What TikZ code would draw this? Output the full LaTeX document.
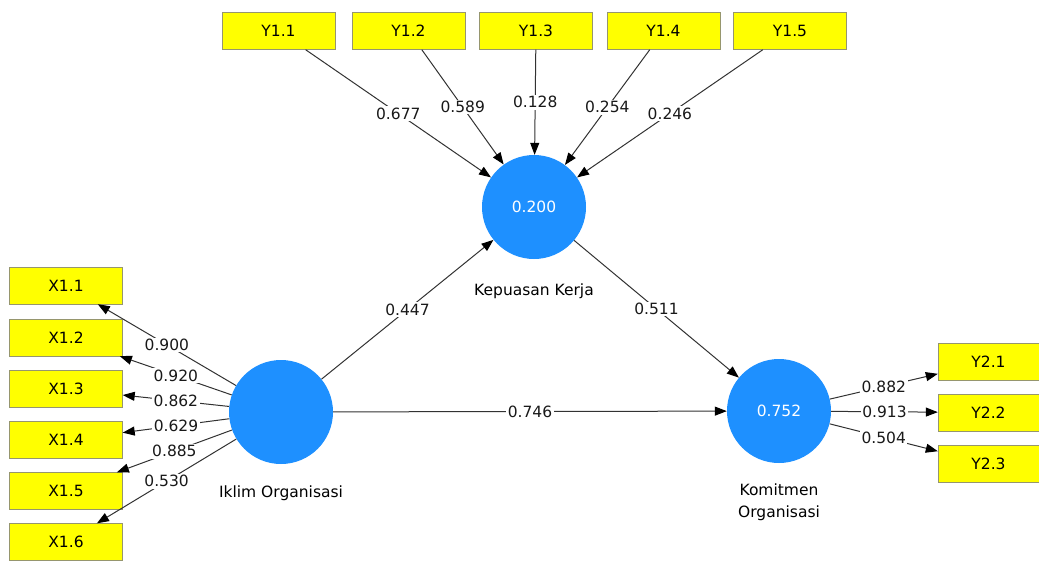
\documentclass[tikz,border=0pt]{standalone}
\usepackage{fontspec}
\setmainfont{DejaVu Sans}
\usetikzlibrary{arrows.meta,positioning}
\definecolor{latentBlue}{RGB}{30,144,255}
\definecolor{boxYellow}{RGB}{255,255,0}
\definecolor{boxBorder}{RGB}{150,150,110}
\definecolor{lineGray}{RGB}{50,50,50}
\begin{document}
\begin{tikzpicture}
		[x=1pt,y=-1pt,font=\fontsize{15.5}{22}\selectfont,
			boxDecorate/.style={shape=rectangle,draw=boxBorder,fill=boxYellow,minimum width=113pt,minimum height=37pt,inner sep=0pt},
			latentDecorate/.style={shape=circle,fill=latentBlue,minimum size=104pt,inner sep=0pt,text=white},
			lineDecorate/.style={draw=lineGray,line width=1pt,-{Triangle[length=12pt,width=9pt,color=black]}},
			weightDecorate/.style={fill=white,inner sep=1.5pt,text=black!90}]
		\useasboundingbox (0,0) rectangle (1039,560);
		% latent variables
		\node (kepuasan) at (534,207) [latentDecorate] {0.200};
		\node (iklim) at (281,412) [latentDecorate] {};
		\node (komitmen) at (779,411) [latentDecorate] {0.752};
		\node [below=21pt of kepuasan] {Kepuasan Kerja};
		\node [below=18pt of iklim] {Iklim Organisasi};
		\node [below=17pt of komitmen,align=center] {Komitmen\\Organisasi};
		% indicators
		\foreach \nodename/\x/\y/\caption in {
				y11/278.5/31/Y1.1, y12/408.5/31/Y1.2, y13/536/31/Y1.3, y14/663.5/31/Y1.4, y15/790/31/Y1.5,
				x11/66/285.5/X1.1, x12/66/337.5/X1.2, x13/66/389/X1.3, x14/66/440/X1.4, x15/66/491/X1.5, x16/66/542/X1.6}
			{
				\node (\nodename) at (\x,\y) [boxDecorate] {\caption};
			}
		\foreach \nodename/\y/\caption in {y21/362/Y2.1, y22/412.5/Y2.2, y23/464/Y2.3}
			{
				\node (\nodename) at (988.5,\y) [boxDecorate,minimum width=101pt] {\caption};
			}
		\foreach \startnode/\endnode/\weight in {
				y11/kepuasan/0.677, y12/kepuasan/0.589, y13/kepuasan/0.128, y14/kepuasan/0.254, y15/kepuasan/0.246,
				iklim/x11/0.900, iklim/x12/0.920, iklim/x13/0.862, iklim/x14/0.629, iklim/x15/0.885, iklim/x16/0.530,
				komitmen/y21/0.882, komitmen/y22/0.913, komitmen/y23/0.504,
				iklim/kepuasan/0.447, kepuasan/komitmen/0.511, iklim/komitmen/0.746}
			{
				\draw[lineDecorate] (\startnode) -- node[weightDecorate] {\weight} (\endnode);
			}
	\end{tikzpicture}
\end{document}
